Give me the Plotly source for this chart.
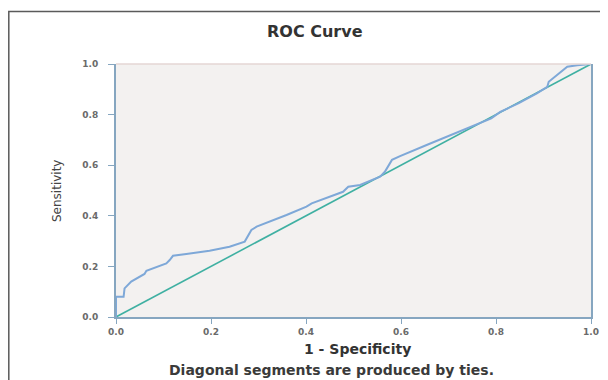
import plotly.graph_objects as go

# ROC curve points (1 - specificity, sensitivity)
fpr = [0, 0, 0.016, 0.018, 0.032, 0.043, 0.060, 0.064, 0.078, 0.106, 0.113, 0.120,
       0.148, 0.197, 0.239, 0.271, 0.285, 0.296, 0.359, 0.401, 0.412, 0.450, 0.478,
       0.489, 0.514, 0.556, 0.566, 0.581, 0.598, 0.654, 0.704, 0.739, 0.767, 0.790,
       0.809, 0.848, 0.886, 0.908, 0.911, 0.936, 0.950, 0.971, 1.0]
tpr = [0, 0.080, 0.080, 0.113, 0.140, 0.153, 0.170, 0.183, 0.192, 0.212, 0.225, 0.242,
       0.249, 0.262, 0.278, 0.298, 0.344, 0.357, 0.403, 0.436, 0.449, 0.476, 0.495,
       0.515, 0.522, 0.555, 0.574, 0.621, 0.636, 0.680, 0.719, 0.746, 0.765, 0.785,
       0.811, 0.845, 0.884, 0.910, 0.930, 0.970, 0.989, 0.995, 1.0]
ref_x = [0, 1]
ref_y = [0, 1]
tick_vals = [0.0, 0.2, 0.4, 0.6, 0.8, 1.0]
tick_text = ["0.0", "0.2", "0.4", "0.6", "0.8", "1.0"]

# the page body has an 8px margin, so the figure starts at (8, 8) in the window
OFF = 8
W, H = 600, 372
L, T = 108, 56
R = W - 583
B = H - 309
PW, PH = W - L - R, H - T - B


def px(x):
    """window x pixel -> paper coordinate"""
    return (x - OFF - L) / PW


def py(y):
    """window y pixel -> paper coordinate"""
    return (H - B - (y - OFF)) / PH


axis_col = "#86a6c0"
tick_font = dict(family="DejaVu Sans", size=9, color="#6a6a6a", weight="bold")

fig = go.Figure()
fig.add_trace(go.Scatter(x=ref_x, y=ref_y, mode="lines",
                         line=dict(color="#3fb0a2", width=1.6),
                         hoverinfo="skip", showlegend=False))
fig.add_trace(go.Scatter(x=fpr, y=tpr, mode="lines",
                         line=dict(color="#7ea8d8", width=2),
                         showlegend=False))

fig.update_layout(
    width=W, height=H,
    margin=dict(l=L, r=R, t=T, b=B, autoexpand=False),
    paper_bgcolor="white",
    plot_bgcolor="#f3f1f0",
    showlegend=False,
)
fig.update_xaxes(range=[0, 1], tickvals=tick_vals, ticktext=tick_text,
                 showgrid=False, zeroline=False,
                 showline=True, linecolor=axis_col, linewidth=2,
                 ticks="outside", ticklen=5, tickwidth=1, tickcolor=axis_col,
                 tickfont=tick_font, ticklabelstandoff=0)
fig.update_yaxes(range=[0, 1], tickvals=tick_vals, ticktext=tick_text,
                 showgrid=False, zeroline=False,
                 showline=True, linecolor=axis_col, linewidth=2, mirror=True,
                 ticks="outside", ticklen=6, tickwidth=1, tickcolor=axis_col,
                 tickfont=tick_font, ticklabelstandoff=8)

# light top edge of the plot frame
fig.add_shape(type="line", xref="paper", yref="paper", x0=0, x1=1, y0=1, y1=1,
              line=dict(color="#e4d6d4", width=1.5))
# outer figure border
fig.add_shape(type="rect", xref="paper", yref="paper",
              x0=px(8.8), x1=px(640), y0=py(420), y1=py(11.5),
              line=dict(color="#5a5a5a", width=1.5), layer="above")

common = dict(xref="paper", yref="paper", showarrow=False,
              xanchor="center", yanchor="middle")
fig.add_annotation(text="ROC Curve", x=px(315), y=py(31),
                   font=dict(family="DejaVu Sans", size=16, color="#333333", weight="bold"),
                   **common)
fig.add_annotation(text="Sensitivity", x=px(57), y=py(191), textangle=-90,
                   font=dict(family="DejaVu Sans", size=12, color="#444444"),
                   **common)
fig.add_annotation(text="1 - Specificity", x=px(357), y=py(349),
                   font=dict(family="DejaVu Sans", size=14, color="#333333", weight="bold"),
                   **common)
fig.add_annotation(text="Diagonal segments are produced by ties.", x=px(331), y=py(370),
                   font=dict(family="DejaVu Sans", size=14, color="#3a3a3a", weight="bold"),
                   **common)

fig.write_html("out.html")
